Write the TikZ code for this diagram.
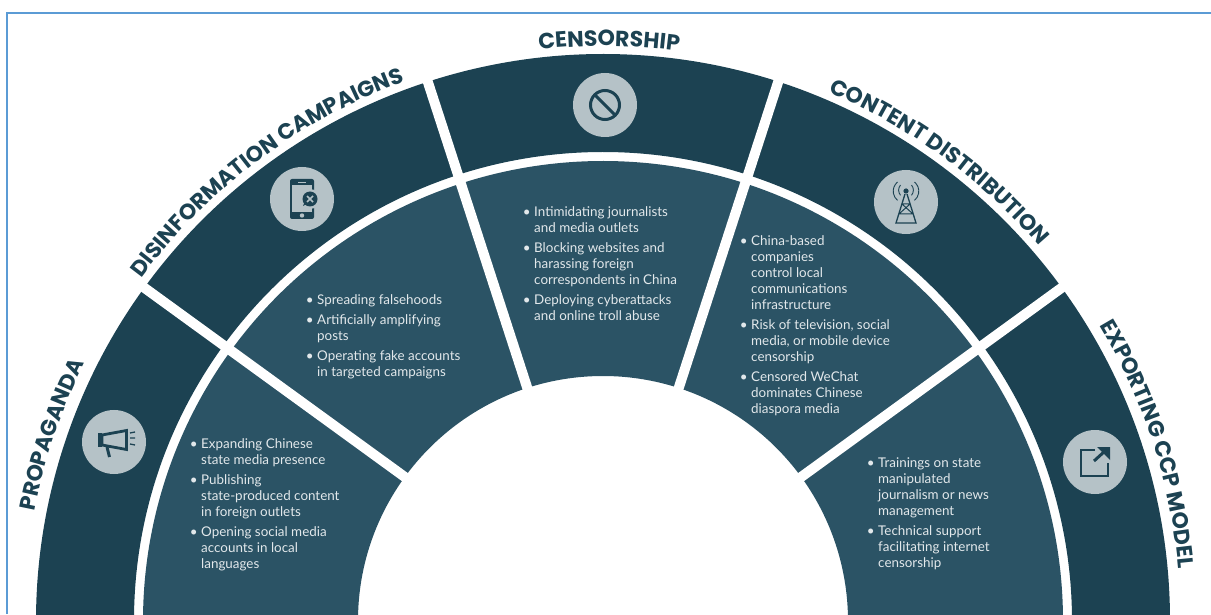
\documentclass[tikz,border=0pt]{standalone}
\usepackage{fontspec}
\setmainfont{Lato}
\newfontfamily\capfont{Poppins}
\usepackage{tikz}
\usetikzlibrary{calc,decorations.text}

\definecolor{ringdark}{HTML}{1C4252}
\definecolor{ringmid}{HTML}{2B5365}
\definecolor{iconbg}{HTML}{B5C2C7}
\definecolor{bodytext}{HTML}{E2E8EB}
\definecolor{framecol}{HTML}{5B9BD5}

\newcommand{\bitem}{\leavevmode\llap{\textbullet\hspace{3.6pt}}}
\newcommand{\arclabel}[4]{%
	\path[decorate,decoration={text along path,text align=center,
		text={|\capfont\bfseries\fontsize{22}{22}\selectfont\color{ringdark}|#1}}]
		($(o)+(#2:#4)$) arc (#2:#3:#4);
}

\tikzset{
	listbox/.style={anchor=north west,inner sep=0pt,align=left,text=bodytext,
		font=\fontsize{13.4}{16}\selectfont},
	iconbox/.style={circle,fill=iconbg,minimum size=64pt,inner sep=0pt},
	iconline/.style={draw=ringdark,line width=1.3pt}
}

\begin{document}
\begin{tikzpicture}[x=1pt,y=1pt]
	
	\useasboundingbox (0,0) rectangle (1211,614);
	\clip (0,0) rectangle (1211,614);
	
	\coordinate (o) at (603,-7);
	\coordinate (tl) at (7,601);
	\coordinate (tr) at (1211,601);
	\coordinate (bl) at (7,0);
	\draw[framecol,line width=1.6pt] (bl) -- (tl) -- (tr);
	
	\fill[ringdark] ($(o)+(-2:567)$) arc (-2:182:567) -- ($(o)+(182:469)$) arc (182:-2:469) -- cycle;
	\fill[ringmid] ($(o)+(-2:460)$) arc (-2:182:460) -- ($(o)+(182:245)$) arc (182:-2:245) -- cycle;
	
	\foreach \a in {36,72,108,144}
		\draw[white,line width=10pt] ($(o)+(\a:235)$) -- ($(o)+(\a:580)$);
	
	\arclabel{PROPAGANDA}{176.3}{146.3}{579}
	\arclabel{DISINFORMATION CAMPAIGNS}{151.8}{101.8}{575}
	\arclabel{CENSORSHIP}{105.4}{73.4}{575}
	\arclabel{CONTENT DISTRIBUTION}{78.8}{28.8}{575}
	\arclabel{EXPORTING CCP MODEL}{43}{-7}{578}
	
	\node[iconbox] (propaganda) at (114,172) {};
	\node[iconbox] (disinfo) at (302,415) {};
	\node[iconbox] (censor) at (605,509) {};
	\node[iconbox] (content) at (906,412) {};
	\node[iconbox] (export) at (1095,152) {};
	
	\begin{scope}[shift={(propaganda)}]
		\fill[ringdark] (-16,9) rectangle (-12,-5);
		\draw[iconline,line width=2.8pt] (-12,7) -- (12.5,11.5) -- (12.5,-7.5) -- (-12,-3) -- cycle;
		\draw[iconline,line width=3pt] (-7,-5) -- (-4.5,-15);
		\draw[iconline,line width=1.3pt] (16,9) -- (21,10) (16,4) -- (21,4) (16,-2) -- (21,-3);
	\end{scope}
	
	\begin{scope}[shift={(disinfo)}]
		\fill[ringdark,rounded corners=2pt] (-12,20) rectangle (12,-20);
		\fill[iconbg] (-10,14) rectangle (10,-13);
		\fill[iconbg] (-4,16.5) rectangle (4,15.5);
		\fill[iconbg] (0,-16.5) circle (2.2pt);
		\fill[iconbg] (8,0) circle (10pt);
		\fill[ringdark] (8,0) circle (7.5pt);
		\fill[ringdark] (1,-7) -- (3,-2) -- (5,-5) -- cycle;
		\draw[iconbg,line width=1.5pt] (5,-3) -- (11,3) (5,3) -- (11,-3);
	\end{scope}
	
	\begin{scope}[shift={(censor)}]
		\draw[ringdark,line width=3pt] (0,0) circle (14.5pt);
		\draw[ringdark,line width=3pt] (-10,10) -- (10,-10);
	\end{scope}
	
	\begin{scope}[shift={(content)}]
		\fill[ringdark] (0,11) circle (2.6pt);
		\draw[iconline,line width=.9pt] (-8.5,20) arc (130:230:12) (8.5,20) arc (50:-50:12);
		\draw[iconline,line width=.9pt] (-5.5,17) arc (140:220:8) (5.5,17) arc (40:-40:8);
		\draw[iconline] (-1,8) -- (-10,-21) -- (10,-21) -- (1,8);
		\draw[iconline,line width=1pt] (-4,-2) -- (4,-2) (-7,-12) -- (7,-12) (-4,-2) -- (7,-12) (4,-2) -- (-7,-12);
	\end{scope}
	
	\begin{scope}[shift={(export)}]
		\draw[iconline,line width=2pt] (0,12) -- (-14,12) -- (-14,-14) -- (13,-14) -- (13,-1);
		\draw[iconline,line width=3pt] (-1,1) -- (10,11);
		\fill[ringdark] (2,15) -- (15,15) -- (15,2) -- cycle;
	\end{scope}
	
	\node[listbox] (propagandalist) at (201,176) {\bitem Expanding Chinese\\state media presence\\[4pt]\bitem Publishing\\state-produced content\\in foreign outlets\\[4pt]\bitem Opening social media\\accounts in local\\languages};
	\node[listbox] (disinfolist) at (317,320) {\bitem Spreading falsehoods\\[4pt]\bitem Artificially amplifying\\posts\\[4pt]\bitem Operating fake accounts\\in targeted campaigns};
	\node[listbox] (censorlist) at (534,408) {\bitem Intimidating journalists\\and media outlets\\[4pt]\bitem Blocking websites and\\harassing foreign\\correspondents in China\\[4pt]\bitem Deploying cyberattacks\\and online troll abuse};
	\node[listbox] (contentlist) at (751,379) {\bitem China-based\\companies\\control local\\communications\\infrastructure\\[4pt]\bitem Risk of television, social\\media, or mobile device\\censorship\\[4pt]\bitem Censored WeChat\\dominates Chinese\\diaspora media};
	\node[listbox] (exportlist) at (878,156) {\bitem Trainings on state\\manipulated\\journalism or news\\management\\[4pt]\bitem Technical support\\facilitating internet\\censorship};
	
\end{tikzpicture}
\end{document}
